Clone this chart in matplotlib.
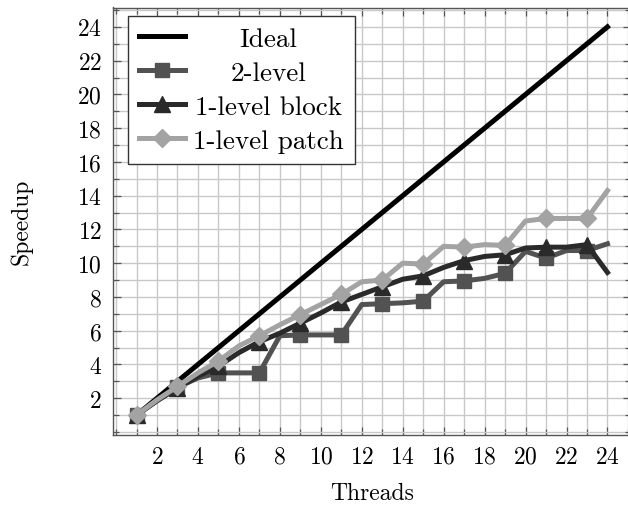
import numpy as np
import matplotlib
matplotlib.use('Agg')
import matplotlib.pyplot as plt
from matplotlib.ticker import MultipleLocator

#font close to computer modern
plt.rcParams['font.family'] = ['cmr10', 'DejaVu Serif']
plt.rcParams['axes.formatter.use_mathtext'] = True

#data
threads = list(range(1, 25))
ideal = list(range(1, 25))
two_level = [1.0, 1.85, 2.65, 3.2, 3.5, 3.5, 3.5, 5.7, 5.75, 5.75, 5.75, 7.55,
             7.6, 7.65, 7.75, 8.9, 8.95, 9.1, 9.4, 10.7, 10.3, 10.75, 10.75, 11.15]
one_block = [1.0, 1.85, 2.6, 3.3, 3.9, 4.7, 5.35, 5.85, 6.45, 7.05, 7.7, 8.15,
             8.6, 9.05, 9.25, 9.75, 10.15, 10.4, 10.5, 10.9, 10.95, 10.95, 11.1, 9.45]
one_patch = [1.0, 1.9, 2.7, 3.5, 4.2, 5.1, 5.7, 6.35, 6.95, 7.55, 8.15, 8.9,
             9.0, 10.0, 9.95, 11.0, 10.95, 11.1, 11.05, 12.5, 12.65, 12.65, 12.65, 14.3]

fig = plt.figure(figsize=(6.28, 5.10), dpi=100)
ax = fig.add_axes([113/628, 74.5/510, 518/628, 427/510])

fs = 17
lw = 3.6
ax.plot(threads, ideal, color='black', lw=lw, label='Ideal', zorder=3)
ax.plot(threads, two_level, color='#525252', lw=lw, marker='s', markersize=10,
        markevery=slice(0, None, 2), label='2-level', zorder=4)
ax.plot(threads, one_block, color='#2a2a2a', lw=lw, marker='^', markersize=11,
        markevery=slice(0, None, 2), label='1-level block', zorder=5)
ax.plot(threads, one_patch, color='#a3a3a3', lw=lw, marker='D', markersize=9,
        markevery=slice(0, None, 2), label='1-level patch', zorder=6)

ax.set_xlim(-0.15, 25.15)
ax.set_ylim(-0.15, 25.15)
ax.xaxis.set_minor_locator(MultipleLocator(1))
ax.yaxis.set_minor_locator(MultipleLocator(1))
ax.set_xticks(range(2, 25, 2))
ax.set_yticks(range(2, 25, 2))

ax.grid(True, which='both', color='#c8c8c8', lw=1.0, zorder=0)
ax.set_axisbelow(True)
ax.tick_params(which='both', direction='in', top=True, right=True,
               color='#555555', labelsize=fs, pad=8)
ax.tick_params(which='major', length=5.5, width=0.9)
ax.tick_params(which='minor', length=4, width=0.9)
for s in ax.spines.values():
    s.set_color('#555555')
    s.set_linewidth(1.0)

ax.set_xlabel('Threads', fontsize=fs, labelpad=10)
ax.set_ylabel('Speedup', fontsize=fs, labelpad=32)

leg = ax.legend(loc='upper left', bbox_to_anchor=(0.029, 0.98), borderaxespad=0,
                fontsize=19.5, fancybox=False, framealpha=1, edgecolor='#333333',
                handlelength=1.7, labelspacing=0.37, handletextpad=0.3,
                borderpad=0.4)
leg.get_frame().set_linewidth(1.0)

#center the legend entries like the original
fig.canvas.draw()
r = fig.canvas.get_renderer()
texts = leg.get_texts()
widths = [t.get_window_extent(r).width for t in texts]
maxw = max(widths)
for t, w in zip(texts, widths):
    t.set_position(((maxw - w) / 2, 0))

fig.savefig('out.png', dpi=100)
